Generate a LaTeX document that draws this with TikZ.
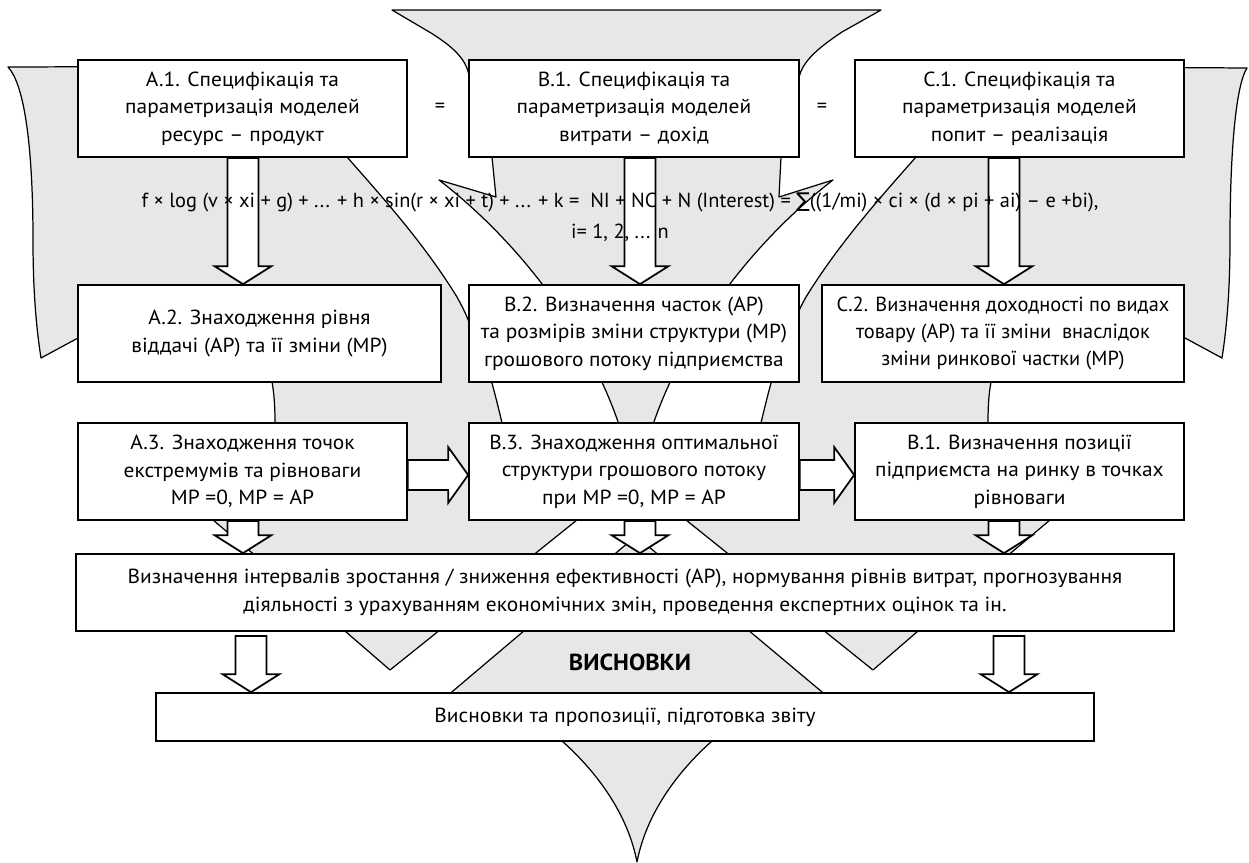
\documentclass[tikz,border=0pt]{standalone}
\usepackage{fontspec}
\setmainfont[FakeStretch=1.05]{PT Sans}
\newfontfamily\plainfont{PT Sans}
\newfontfamily\symfont{DejaVu Sans}
\usetikzlibrary{calc}
\definecolor{bg}{RGB}{230,231,232}
\tikzset{
  gshape/.style={fill=bg, draw=black, line width=0.7pt, line join=round},
  box/.style={draw=black, fill=white, line width=1pt, align=center, inner sep=0pt,
    font=\fontsize{11.6}{15.6}\selectfont},
  barrow/.style={draw=black, fill=white, line width=1pt, line join=miter},
  txt/.style={align=center, inner sep=0pt, font=\plainfont\fontsize{11.6}{15.6}\selectfont},
  boldtxt/.style={align=center, inner sep=0pt, font=\fontsize{13.2}{15.6}\selectfont\bfseries}
}
\newcommand{\darrow}[2]{\draw[barrow] ($(#1)+(-15.5,0)$) -- ($(#2)+(-15.5,-18)$) -- ($(#2)+(-28.5,-18)$) -- (#2) -- ($(#2)+(28.5,-18)$) -- ($(#2)+(15.5,-18)$) -- ($(#1)+(15.5,0)$) -- cycle;}
\newcommand{\rarrow}[2]{\draw[barrow] ($(#1)+(0,-15)$) -- ($(#2)+(-20,-15)$) -- ($(#2)+(-20,-28)$) -- (#2) -- ($(#2)+(-20,28)$) -- ($(#2)+(-20,15)$) -- ($(#1)+(0,15)$) -- cycle;}
\begin{document}
\begin{tikzpicture}[x=0.02cm, y=-0.02cm]
\useasboundingbox (0,0) rectangle (1249,863);
% ---------- background shapes ----------
% top funnel / central arrow
\draw[gshape] (392,10) -- (881,10) -- (842,32)
  .. controls (815,50) and (803,62) .. (799,77)
  -- (782,120) -- (781,157) -- (779,197) -- (833,180)
  .. controls (742,250) and (652,370) .. (636,497)
  .. controls (620,370) and (530,250) .. (439,180)
  -- (496,197) -- (492,157) -- (490,120) -- (469,75)
  .. controls (466,60) and (455,48) .. (431,33) -- cycle;
% left curved arrow
\draw[gshape] (8,67) -- (340,66) -- (347,157)
  .. controls (385,200) and (425,245) .. (457,297)
  .. controls (462,306) and (466,314) .. (469,322)
  .. controls (480,345) and (488,365) .. (492,383)
  .. controls (496,398) and (499,410) .. (502,423)
  .. controls (520,480) and (620,470) .. (577,520)
  -- (390,670) -- (345,631) -- (213,520)
  -- (260,470) -- (275,423)
  .. controls (275,405) and (274,393) .. (272,382)
  -- (78,338) -- (41,358)
  .. controls (35,320) and (33,280) .. (33,240)
  .. controls (33,150) and (25,85) .. (8,67) -- cycle;
% right curved arrow
\draw[gshape] (1247,68) -- (923,66) -- (916,157)
  .. controls (878,200) and (838,245) .. (806,297)
  .. controls (801,306) and (797,314) .. (794,322)
  .. controls (783,345) and (775,365) .. (771,383)
  .. controls (767,398) and (764,410) .. (761,423)
  .. controls (743,480) and (643,470) .. (686,520)
  -- (873,670) -- (918,631) -- (1050,520)
  -- (1003,470) -- (988,423)
  .. controls (988,405) and (989,393) .. (991,382)
  -- (1185,338) -- (1222,358)
  .. controls (1228,320) and (1230,280) .. (1230,240)
  .. controls (1230,150) and (1236,85) .. (1247,68) -- cycle;
% bottom funnel
\draw[gshape] (636,536) -- (440,702) -- (562,741)
  .. controls (598,773) and (628,815) .. (637,862)
  .. controls (646,815) and (676,773) .. (712,741)
  -- (834,702) -- cycle;
% ---------- boxes ----------
\node[box, minimum width=6.58cm, minimum height=1.94cm] (A1) at (242.5,108.5)
  {А.1. Специфікація та\\параметризація моделей\\ресурс – продукт};
\node[box, minimum width=6.60cm, minimum height=1.94cm] (B1) at (634,108.5)
  {В.1. Специфікація та\\параметризація моделей\\витрати – дохід};
\node[box, minimum width=6.58cm, minimum height=1.94cm] (C1) at (1019.5,108.5)
  {С.1. Специфікація та\\параметризація моделей\\попит – реалізація};
\node[box, minimum width=7.26cm, minimum height=1.94cm] (A2) at (259.5,333.5)
  {А.2. Знаходження рівня\\віддачі (АР) та її зміни (МР)};
\node[box, minimum width=6.60cm, minimum height=1.94cm] (B2) at (634,333.5)
  {В.2. Визначення часток (АР)\\та розмірів зміни структури (МР)\\грошового потоку підприємства};
\node[box, minimum width=7.24cm, minimum height=1.94cm, font=\plainfont\fontsize{11.6}{15.6}\selectfont] (C2) at (1003,333.5)
  {С.2. Визначення доходності по видах\\товару (АР) та її зміни \ внаслідок\\зміни ринкової частки (МР)};
\node[box, minimum width=6.58cm, minimum height=1.94cm] (A3) at (242.5,471.5)
  {А.3. Знаходження точок\\екстремумів та рівноваги\\МР =0, МР = АР};
\node[box, minimum width=6.60cm, minimum height=1.94cm] (B3) at (634,471.5)
  {В.3. Знаходження оптимальної\\структури грошового потоку\\при МР =0, МР = АР};
\node[box, minimum width=6.58cm, minimum height=1.94cm] (C3) at (1019.5,471.5)
  {В.1. Визначення позиції\\підприємста на ринку в точках\\рівноваги};
\node[box, minimum width=21.96cm, minimum height=1.54cm] (D) at (625,592.5)
  {Визначення інтервалів зростання / зниження ефективності (АР), нормування рівнів витрат, прогнозування\\діяльності з урахуванням економічних змін, проведення експертних оцінок та ін.};
\node[box, minimum width=18.76cm, minimum height=0.96cm] (E) at (625,717)
  {Висновки та пропозиції, підготовка звіту};
% ---------- arrows ----------
\coordinate (xa) at (243,0);
\coordinate (xb) at (640,0);
\coordinate (xc) at (1004,0);
\coordinate (xd) at (251,0);
\coordinate (xe) at (1009,0);
\coordinate (yh) at (0,475);
\darrow{A1.south -| xa}{A2.north -| xa}
\darrow{B1.south -| xb}{B2.north -| xb}
\darrow{C1.south -| xc}{C2.north -| xc}
\darrow{A3.south -| xa}{D.north -| xa}
\darrow{B3.south -| xb}{D.north -| xb}
\darrow{C3.south -| xc}{D.north -| xc}
\coordinate (d1) at ($(D.south -| xd)+(0,4)$);
\coordinate (d2) at ($(D.south -| xe)+(0,4)$);
\darrow{d1}{E.north -| xd}
\darrow{d2}{E.north -| xe}
\rarrow{A3.east |- yh}{B3.west |- yh}
\rarrow{B3.east |- yh}{C3.west |- yh}
% ---------- free texts ----------
\node[txt] (eq1) at (440,108) {=};
\node[txt] (eq2) at (822,108) {=};
\node[txt] (formula) at (620,217)
  {f × log (v × xi + g) + ... + h × sin(r × xi + t) + ... + k = \ NI + NC + N (Interest) = {\symfont ∑}((1/mi) × ci × (d × pi + ai) – e +bi),\\[2pt] i= 1, 2, ... n};
\node[boldtxt] (concl) at (630,662) {ВИСНОВКИ};
\end{tikzpicture}
\end{document}
